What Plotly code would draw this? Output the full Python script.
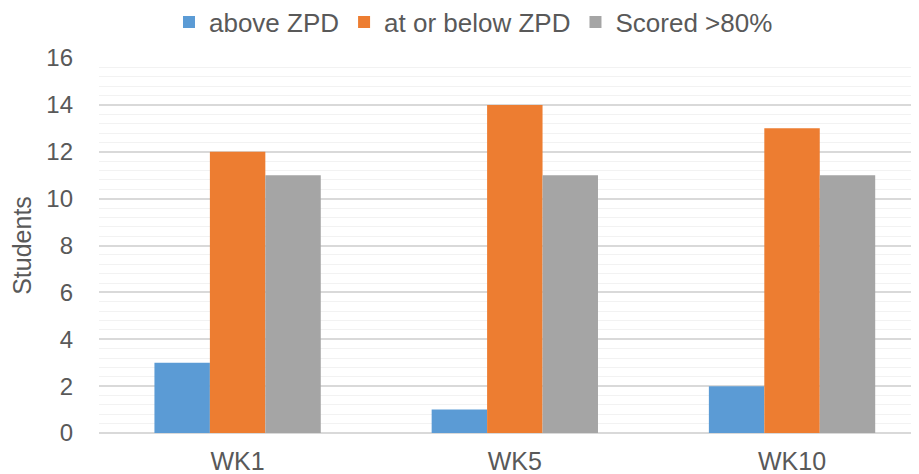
import plotly.graph_objects as go

categories = ["WK1", "WK5", "WK10"]
above_zpd = [3, 1, 2]
at_or_below_zpd = [12, 14, 13]
scored_80 = [11, 11, 11]
series_names = ["above ZPD", "at or below ZPD", "Scored >80%"]
colors = ["#5B9BD5", "#ED7D31", "#A5A5A5"]
y_ticks = [0, 2, 4, 6, 8, 10, 12, 14, 16]

FONT = "Liberation Sans, Arial, sans-serif"
TXT = "#595959"

fig = go.Figure()
for name, vals, col in zip(series_names, [above_zpd, at_or_below_zpd, scored_80], colors):
    fig.add_trace(go.Bar(x=categories, y=vals, name=name,
                         marker=dict(color=col, line=dict(width=0))))

# page body has an 8px default margin, so the figure is 8px smaller and margins reduced
fig.update_layout(
    width=911, height=466,
    margin=dict(l=91, r=0, t=50, b=41),
    paper_bgcolor="white", plot_bgcolor="white",
    barmode="group", bargap=0.4, bargroupgap=0,
    font=dict(family=FONT, size=24, color=TXT),
    showlegend=True,
    legend=dict(orientation="h", x=0.4567, xanchor="center",
                yref="container", y=0.97, yanchor="middle",
                font=dict(family=FONT, size=26, color=TXT), traceorder="normal",
                bgcolor="rgba(0,0,0,0)"),
    xaxis=dict(range=[-0.5, 2.458], showgrid=False, zeroline=False, showline=False,
               ticks="", tickfont=dict(size=25, color=TXT), automargin=False,
               ticklabelstandoff=11),
    yaxis=dict(range=[0, 16], tickvals=y_ticks, showgrid=True, gridcolor="#D9D9D9",
               gridwidth=1.5, zeroline=True, zerolinecolor="#D9D9D9", zerolinewidth=1.5,
               showline=False, ticks="", tickfont=dict(size=24, color=TXT),
               ticklabelstandoff=25, automargin=False,
               minor=dict(dtick=0.4, showgrid=True, gridcolor="#F2F2F2", gridwidth=1),
               title=dict(text="Students", font=dict(size=25, color=TXT), standoff=9)),
)

fig.write_html("out.html")
